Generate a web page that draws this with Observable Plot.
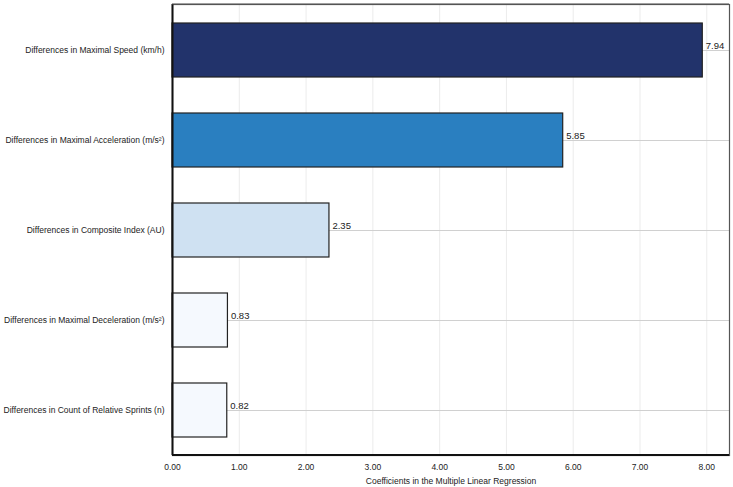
<!DOCTYPE html>
<html><head><meta charset="utf-8">
<script src="https://cdn.jsdelivr.net/npm/d3@7"></script>
<script src="https://cdn.jsdelivr.net/npm/@observablehq/plot@0.6"></script>
<style>body{margin:0;background:#fff;font-family:"Liberation Sans",Arial,sans-serif}</style>
</head><body><div id="chart"></div>
<script>
const categories = [
  "Differences in Maximal Speed (km/h)",
  "Differences in Maximal Acceleration (m/s²)",
  "Differences in Composite Index (AU)",
  "Differences in Maximal Deceleration (m/s²)",
  "Differences in Count of Relative Sprints (n)"
];
const values = [7.94, 5.85, 2.35, 0.83, 0.82];
const colors = ["#22336b", "#2a7fc0", "#cfe1f2", "#f5f9fe", "#f5f9fe"];
const xTicks = [0, 1, 2, 3, 4, 5, 6, 7, 8];
const data = categories.map((c, i) => ({cat: c, v: values[i], color: colors[i]}));

const plot = Plot.plot({
  width: 733, height: 487,
  marginLeft: 172, marginRight: 4, marginTop: 4, marginBottom: 32,
  style: {fontFamily: "Liberation Sans, Arial, sans-serif", fontSize: "8.5px", color: "#222"},
  x: {domain: [0, 8.34]},
  y: {domain: categories, paddingInner: 0.4, paddingOuter: 0.2, label: null},
  marks: [
    Plot.gridX(xTicks, {stroke: "#e6e6e6", strokeOpacity: 1, strokeWidth: 0.8}),
    Plot.ruleY(categories, {y: d => d, stroke: "#d0d0d0", strokeWidth: 1}),
    Plot.barX(data, {x: "v", y: "cat", fill: "color", stroke: "#222", strokeWidth: 1.2}),
    Plot.text(data, {x: "v", y: "cat", text: d => d.v.toFixed(2), textAnchor: "start", dx: 3, dy: -5, fill: "#222", fontSize: 9.5}),
    Plot.frame({stroke: "#555", strokeWidth: 1.2}),
    Plot.ruleX([0], {stroke: "#111", strokeWidth: 2}),
    Plot.axisY({tickSize: 0, tickPadding: 8, label: null, fontSize: 8.5}),
    Plot.axisX({ticks: xTicks, tickFormat: d => d.toFixed(2), tickSize: 0, tickPadding: 8, label: "Coefficients in the Multiple Linear Regression", labelArrow: "none", labelAnchor: "center", labelOffset: 28, fontSize: 8.5}),
  ]
});
document.getElementById("chart").append(plot);
const svg = d3.select(plot);
svg.append("line").attr("x1", 172).attr("x2", 729).attr("y1", 455).attr("y2", 455).attr("stroke", "#111").attr("stroke-width", 2);
svg.append("line").attr("x1", 172).attr("x2", 729).attr("y1", 4).attr("y2", 4).attr("stroke", "#555").attr("stroke-width", 1.2);
</script>
</body></html>
